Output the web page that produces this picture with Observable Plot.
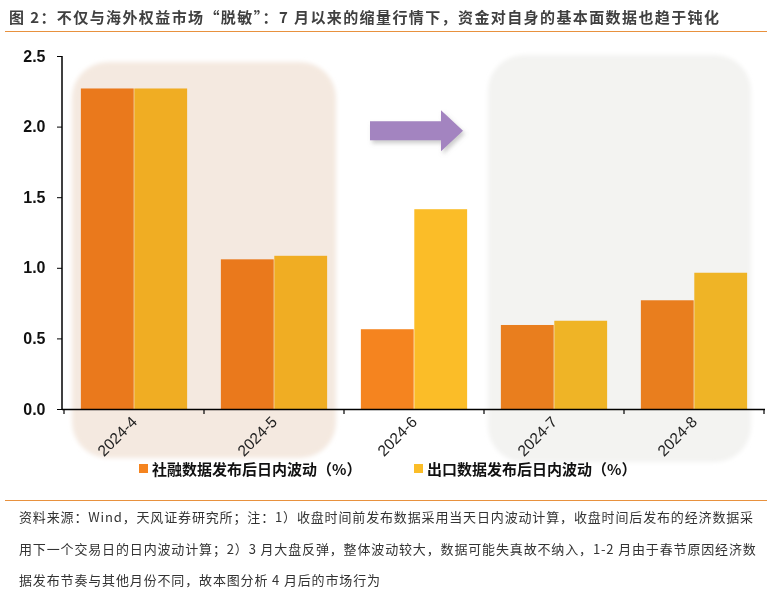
<!DOCTYPE html>
<html>
<head>
<meta charset="utf-8">
<script src="https://cdn.jsdelivr.net/npm/d3@7"></script>
<script src="https://cdn.jsdelivr.net/npm/@observablehq/plot@0.6"></script>
<style>
  body { margin:0; background:#fff; font-family:"Noto Sans CJK SC", "Noto Sans", sans-serif; width:783px; height:595px; position:relative; overflow:hidden; }
  #title { position:absolute; left:9px; top:6px; font-size:15px; font-weight:bold; color:#404040; letter-spacing:1.4px; white-space:nowrap; }
  .rule { position:absolute; left:5px; width:762px; height:0; border-top:1.5px solid #E8913E; }
  #chart { position:absolute; left:0; top:36px; }
  .leg { position:absolute; top:458px; font-size:15px; font-weight:bold; color:#111; white-space:nowrap; display:flex; align-items:center; }
  .sw { width:9px; height:9px; display:inline-block; margin-right:4px; }
  #footer { position:absolute; left:19px; top:501px; font-size:13px; line-height:31.5px; color:#333; letter-spacing:0.85px; white-space:nowrap; }
</style>
</head>
<body>
<div id="title">图 2：不仅与海外权益市场“脱敏”：7 月以来的缩量行情下，资金对自身的基本面数据也趋于钝化</div>
<div class="rule" style="top:31px"></div>
<div id="chart"></div>
<div id="legend"></div>
<div class="rule" style="top:500px"></div>
<div id="footer">资料来源：Wind，天风证券研究所；注：1）收盘时间前发布数据采用当天日内波动计算，收盘时间后发布的经济数据采<br>用下一个交易日的日内波动计算；2）3 月大盘反弹，整体波动较大，数据可能失真故不纳入，1-2 月由于春节原因经济数<br>据发布节奏与其他月份不同，故本图分析 4 月后的市场行为</div>
<script>
const months = ["2024-4", "2024-5", "2024-6", "2024-7", "2024-8"];
const tsfValues = [2.27, 1.06, 0.565, 0.595, 0.77];
const exportValues = [2.27, 1.085, 1.415, 0.625, 0.965];
const seriesNames = ["社融数据发布后日内波动（%）", "出口数据发布后日内波动（%）"];
const seriesColors = ["#F5841F", "#FBBD28"];
const yTicks = [0, 0.5, 1, 1.5, 2, 2.5];

const W = 783, H = 445, mL = 62, mR = 18, mT = 20, mB = 72;
const step = (W - mL - mR) / months.length;
const outer = step * 0.12;
const half = step / 2;

const tsfData = months.map((m, i) => ({month: m, series: seriesNames[0], value: tsfValues[i]}));
const expData = months.map((m, i) => ({month: m, series: seriesNames[1], value: exportValues[i]}));

const plot = Plot.plot({
  width: W, height: H,
  marginLeft: mL, marginRight: mR, marginTop: mT, marginBottom: mB,
  style: {fontFamily: "Liberation Sans, Arial, sans-serif", background: "transparent", overflow: "visible"},
  x: {domain: months, padding: 0, label: null},
  y: {domain: [0, 2.5], label: null},
  color: {domain: seriesNames, range: seriesColors},
  marks: [
    Plot.barY(tsfData, {x: "month", y: "value", fill: "series", insetLeft: outer, insetRight: half, mixBlendMode: "multiply"}),
    Plot.barY(expData, {x: "month", y: "value", fill: "series", insetLeft: half, insetRight: outer, mixBlendMode: "multiply"}),
    Plot.ruleY([0], {stroke: "#000", strokeWidth: 1.5}),
    Plot.axisY({ticks: yTicks, tickFormat: d3.format(".1f"), tickSize: 5, tickPadding: 12, fontSize: 16, fontWeight: "bold", fill: "#111", stroke: "#000", label: null}),
    Plot.axisX({tickSize: 0, tickRotate: -45, tickPadding: 10, fontSize: 15.5, fill: "#222", label: null})
  ]
});
document.getElementById("chart").appendChild(plot);

// decorations derived from the scales
const xs = plot.scale("x"), ys = plot.scale("y");
const svg = d3.select(plot);
const bw = xs.bandwidth;
const y0 = ys.apply(0), yTop = ys.apply(2.5);

const defs = svg.insert("defs", ":first-child");
defs.append("filter").attr("id", "soft").attr("x", "-10%").attr("y", "-10%").attr("width", "120%").attr("height", "120%")
  .append("feGaussianBlur").attr("stdDeviation", 2.2);
const sh = defs.append("filter").attr("id", "shadow").attr("x", "-20%").attr("y", "-30%").attr("width", "150%").attr("height", "170%");
sh.append("feDropShadow").attr("dx", 2).attr("dy", 3).attr("stdDeviation", 2).attr("flood-color", "#999").attr("flood-opacity", 0.5);

const bg = svg.insert("g", "defs + *");
const boxes = [
  {from: "2024-4", to: "2024-5", l: 8, r: -8, t: 6, b: 49, fill: "#F4E9E0"},
  {from: "2024-7", to: "2024-8", l: 4, r: -13, t: -1, b: 53, fill: "#F3F3F1"}
];
for (const b of boxes) {
  const x1 = xs.apply(b.from) + b.l, x2 = xs.apply(b.to) + bw + b.r;
  bg.append("rect").attr("x", x1).attr("y", yTop + b.t).attr("width", x2 - x1).attr("height", (y0 + b.b) - (yTop + b.t))
    .attr("rx", 36).attr("fill", b.fill).attr("filter", "url(#soft)");
}

// y axis line
svg.append("line").attr("x1", mL).attr("x2", mL).attr("y1", yTop).attr("y2", y0).attr("stroke", "#000").attr("stroke-width", 1.5);
// x boundary ticks
const bounds = months.map(m => xs.apply(m)).concat([xs.apply(months[months.length - 1]) + bw]);
for (const bx of bounds) {
  svg.append("line").attr("x1", bx).attr("x2", bx).attr("y1", y0).attr("y2", y0 + 5).attr("stroke", "#000").attr("stroke-width", 1.2);
}

// arrow within 2024-6 band
const ax = xs.apply("2024-6");
const ay = ys.apply(1.97);
const a1 = ax + 26, a2 = ax + 119, ah = ax + 97;
const arrowPath = `M${a1},${ay - 9.5} L${ah},${ay - 9.5} L${ah},${ay - 20.5} L${a2},${ay} L${ah},${ay + 20.5} L${ah},${ay + 9.5} L${a1},${ay + 9.5} Z`;
svg.append("path").attr("d", arrowPath).attr("fill", "#A384C0").attr("filter", "url(#shadow)");

// legend
const legend = document.getElementById("legend");
const legLeft = [139, 414];
seriesNames.forEach((s, i) => {
  const d = document.createElement("div");
  d.className = "leg";
  d.style.left = legLeft[i] + "px";
  d.innerHTML = `<span class="sw" style="background:${seriesColors[i]}"></span><span>${s}</span>`;
  legend.appendChild(d);
});
</script>
</body>
</html>
